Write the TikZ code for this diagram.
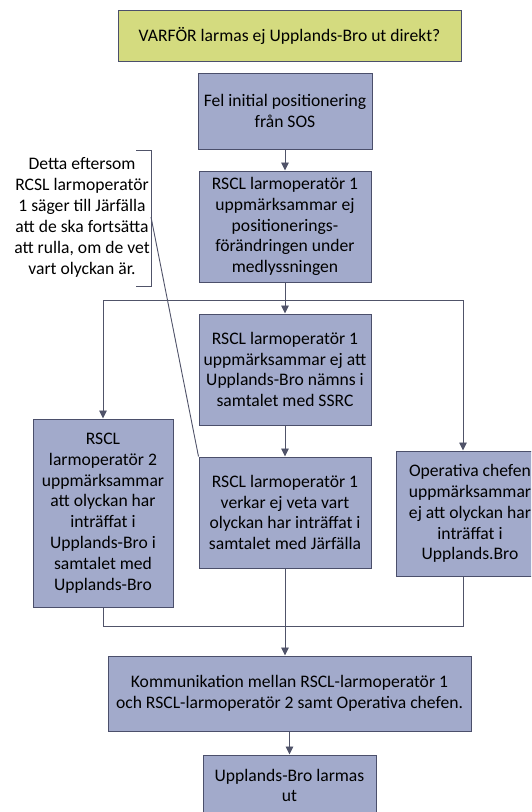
\documentclass[tikz,border=0pt]{standalone}
\usepackage{fontspec}
\setmainfont{Carlito}
\usetikzlibrary{arrows.meta}
\definecolor{boxfill}{RGB}{162,170,203}
\definecolor{boxline}{RGB}{75,79,107}
\definecolor{qfill}{RGB}{212,219,127}
\definecolor{conn}{RGB}{80,83,105}
\tikzset{
  box/.style={rectangle, draw=boxline, fill=boxfill, line width=1pt, align=center, inner sep=0pt,
    font=\fontsize{17.6}{20.8}\selectfont, text=black},
  qbox/.style={box, fill=qfill},
  note/.style={align=center, inner sep=0pt, font=\fontsize{17.6}{21}\selectfont},
  conn/.style={draw=conn, line width=0.9pt},
  arr/.style={conn, -{Triangle[width=7.5pt,length=8pt]}},
}
\begin{document}
\begin{tikzpicture}[x=1pt,y=-1pt]
\useasboundingbox (0,0) rectangle (531,812);
\clip (0,0) rectangle (531,812);
\node[qbox, minimum width=343, minimum height=51] (q) at (289.5,35.5) {VARFÖR larmas ej Upplands-Bro ut direkt?};
\node[box, minimum width=174, minimum height=76] (b2) at (285,111) {Fel initial positionering\\från SOS};
\node[box, minimum width=172, minimum height=111] (b3) at (285,226.5) {RSCL larmoperatör 1\\uppmärksammar ej\\positionerings-\\förändringen under\\medlyssningen};
\node[box, minimum width=172, minimum height=111] (b4) at (285,369.5) {RSCL larmoperatör 1\\uppmärksammar ej att\\Upplands-Bro nämns i\\samtalet med SSRC};
\node[box, minimum width=172, minimum height=111] (b5) at (285,512.5) {RSCL larmoperatör 1\\verkar ej veta vart\\olyckan har inträffat i\\samtalet med Järfälla};
\node[box, minimum width=140, minimum height=188] (bl) at (103,513) {RSCL\\larmoperatör 2\\uppmärksammar\\att olyckan har\\inträffat i\\Upplands-Bro i\\samtalet med\\Upplands-Bro};
\node[box, minimum width=148, minimum height=125] (br) at (470,513.5) {Operativa chefen\\uppmärksammar\\ej att olyckan har\\inträffat i\\Upplands.Bro};
\node[box, minimum width=363, minimum height=75] (b6) at (289.5,693.5) {Kommunikation mellan RSCL-larmoperatör 1\\och RSCL-larmoperatör 2 samt Operativa chefen.};
\node[box, minimum width=173, minimum height=61] (b7) at (289.5,785.5) {Upplands-Bro larmas\\ut};
\node[note] (n) at (82,217.5) {Detta eftersom\\RCSL larmoperatör\\1 säger till Järfälla\\att de ska fortsätta\\att rulla, om de vet\\vart olyckan är.};
% bracket of the note
\coordinate (nt) at (151,150);
\coordinate (nb) at (151,286);
\coordinate (nm) at (151,217);
\draw[conn] (136,150) -- (nt) -- (nb) -- (136,286);
\draw[conn] (nm) -- (b5.north west);
% connectors
\draw[arr] (b2.south) -- (b3.north);
\coordinate (split) at (285,300);
\coordinate (sl) at (103,300);
\coordinate (sr) at (463,300);
\draw[conn] (b3.south) -- (split);
\draw[conn] (sl) -- (sr);
\draw[arr] (split) -- (b4.north);
\draw[arr] (sl) -- (bl.north);
\draw[arr] (sr) -- (sr |- br.north);
\draw[arr] (b4.south) -- (b5.north);
\coordinate (ml) at (103,626);
\coordinate (mr) at (463,626);
\draw[conn] (bl.south) -- (ml) -- (mr) -- (mr |- br.south);
\draw[arr] (b5.south) -- (b6.north -| b5.south);
\draw[arr] (b6.south) -- (b7.north);
\end{tikzpicture}
\end{document}
